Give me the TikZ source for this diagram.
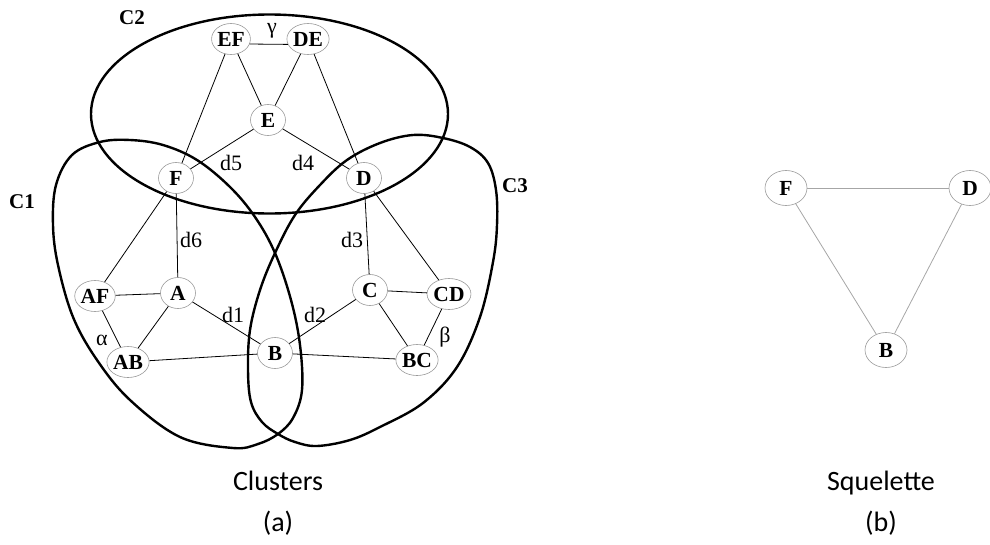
\documentclass[tikz,border=0pt]{standalone}
\usepackage{fontspec}
\setmainfont{Liberation Serif}
\newfontfamily\calib{Carlito}
\usetikzlibrary{shapes.geometric}
\tikzset{
  vtx/.style={ellipse, draw=gray!80, line width=0.6pt, minimum width=35pt, minimum height=31pt, inner sep=0pt, font=\bfseries\fontsize{21.5}{21.5}\selectfont},
  bigvtx/.style={vtx, minimum width=42pt, minimum height=35pt},
  edge/.style={line width=0.8pt, black},
  sedge/.style={line width=0.8pt, gray!70},
  clus/.style={line width=2.4pt, black},
  lab/.style={font=\fontsize{22}{22}\selectfont, inner sep=0pt},
  clab/.style={font=\bfseries\fontsize{21}{21}\selectfont, inner sep=0pt},
  captxt/.style={font=\calib\fontsize{28}{28}\selectfont, inner sep=0pt, anchor=base}
}
\begin{document}
\begin{tikzpicture}[x=1pt,y=-1pt]
\useasboundingbox (0,0) rectangle (990,544);
% clusters
\draw[clus] (269.5,114) ellipse [x radius=178.5, y radius=99.5];
\draw[clus] plot[smooth cycle, tension=0.6] coordinates {(100,142) (130,140) (163,145) (197,160) (230,187) (255,217) (275,253) (291,300) (300,345) (302,390) (293,418) (278,434) (258,444) (233,448) (180,437) (130,400) (97,360) (73,317) (58,265) (53,225) (56,185) (72,155)};
\draw[clus] plot[smooth cycle, tension=0.6] coordinates {(380,143) (413,135) (443,138) (470,147) (488,163) (496,190) (497,225) (493,262) (480,317) (457,367) (423,403) (380,427) (350,440) (317,446) (295,442) (278,434) (262,422) (251,402) (248,370) (250,330) (260,290) (275,253) (295,215) (320,185) (347,160)};
% nodes (a)
\node[vtx] (EF) at (231,39) {EF};
\node[vtx] (DE) at (308,39) {DE};
\node[vtx] (E) at (268,120) {E};
\node[vtx] (F) at (176,178) {F};
\node[vtx] (D) at (364,178) {D};
\node[vtx] (AF) at (95,296) {AF};
\node[vtx] (A) at (178,293) {A};
\node[vtx] (AB) at (128,362) {AB};
\node[vtx] (B) at (275,353) {B};
\node[vtx] (C) at (370,290) {C};
\node[vtx] (CD) at (449,294) {CD};
\node[vtx] (BC) at (417,360) {BC};
% edges (a)
\draw[edge] (EF.-15) -- (DE.195);
\draw[edge] (EF) -- (E);
\draw[edge] (DE) -- (E);
\draw[edge] (EF) -- (F);
\draw[edge] (DE) -- (D);
\draw[edge] (E) -- (F);
\draw[edge] (E) -- (D);
\draw[edge] (F) -- (AF);
\draw[edge] (F) -- (A);
\draw[edge] (D) -- (C);
\draw[edge] (D) -- (CD);
\draw[edge] (AF) -- (A);
\draw[edge] (AF) -- (AB);
\draw[edge] (A) -- (AB);
\draw[edge] (A) -- (B);
\draw[edge] (C) -- (B);
\draw[edge] (C) -- (CD);
\draw[edge] (C) -- (BC);
\draw[edge] (CD) -- (BC);
\draw[edge] (AB) -- (B);
\draw[edge] (B) -- (BC);
% labels (a)
\node[lab] (lg) at (272,31) {γ};
\node[lab] (ld5) at (231,163) {d5};
\node[lab] (ld4) at (303,163) {d4};
\node[lab] (ld6) at (191,240) {d6};
\node[lab] (ld3) at (352,240) {d3};
\node[lab] (ld1) at (233,315) {d1};
\node[lab] (ld2) at (315,315) {d2};
\node[lab] (lal) at (102,340) {α};
\node[lab] (lbe) at (445,337) {β};
\node[clab] (c1) at (22,202) {C1};
\node[clab] (c2) at (132,18) {C2};
\node[clab] (c3) at (515,186) {C3};
% (b)
\node[bigvtx] (sF) at (786,188) {F};
\node[bigvtx] (sD) at (970,188) {D};
\node[bigvtx] (sB) at (886,350) {B};
\draw[sedge] (sF) -- (sD);
\draw[sedge] (sF) -- (sB);
\draw[sedge] (sD) -- (sB);
% captions
\node[captxt] (ta) at (278,490) {Clusters};
\node[captxt] (pa) at (278,531) {(a)};
\node[captxt] (tb) at (881,490) {Squelette};
\node[captxt] (pb) at (881,531) {(b)};
\end{tikzpicture}
\end{document}
